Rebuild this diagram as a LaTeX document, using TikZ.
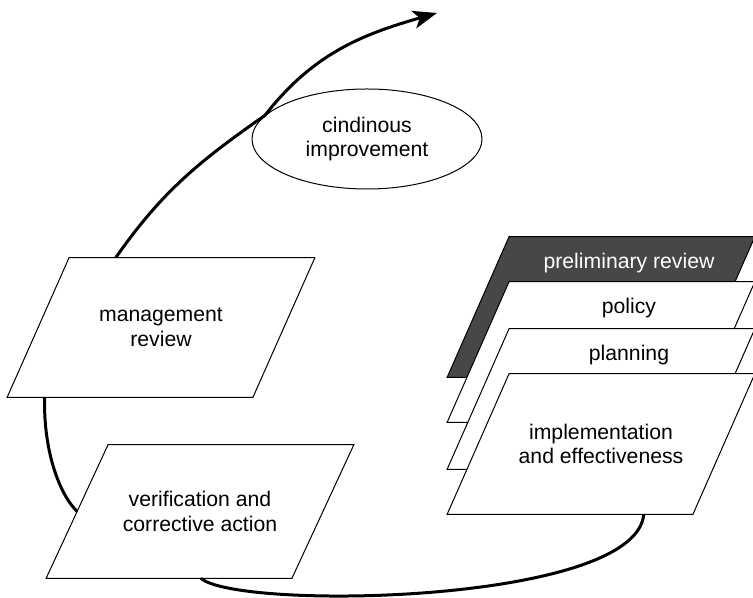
\documentclass[tikz,border=0pt]{standalone}
\usepackage{fontspec}
\setmainfont{Liberation Sans}
\usetikzlibrary{arrows.meta,calc,backgrounds,shapes.geometric}

\begin{document}
\begin{tikzpicture}[x=0.5pt, y=0.5pt,
        font=\fontsize{10.6}{12.4}\selectfont,
        slab/.style={minimum width=122.5pt, minimum height=70pt, inner sep=0pt, align=center},
        flow/.style={line width=1.5pt}]
        \useasboundingbox (0,0) rectangle (753,598);

        % Left side: reviews
        \node[slab, minimum height=69.5pt] (mgmt) at (161,270.5) {management\\review};
        \node[slab, minimum height=66.5pt] (verif) at (200,86.5) {verification and\\corrective action};

        % Improvement
        \node[draw, ellipse, line width=0.5pt, minimum width=115pt, minimum height=50pt, align=center] (improve) at (367,459) {cindinous\\improvement};
        \coordinate (tipend) at (437,585);

        % Right side: stacked stages
        \node[slab] (prelim) at (601,291) {};
        \node[text=white] (prelimtxt) at ($(prelim.north)+(28,-26)$) {preliminary review};
        \node[slab] (policy) at (601,246) {};
        \node (policytxt) at ($(policy.north)+(28,-26)$) {policy};
        \node[slab] (planning) at (601,199) {};
        \node (planningtxt) at ($(planning.north)+(28,-26)$) {planning};
        \node[slab] (impl) at (601,154) {implementation\\and effectiveness};

        % Slanted outlines behind the texts
        \begin{pgfonlayer}{background}
            \foreach \s/\c in {mgmt/white, verif/white, prelim/black!72, policy/white, planning/white, impl/white}
                \filldraw[fill=\c, line width=0.5pt]
                    ($(\s.north west)+(31,0)$) -- ($(\s.north east)+(31,0)$)
                    -- ($(\s.south east)+(-31,0)$) -- ($(\s.south west)+(-31,0)$) -- cycle;
        \end{pgfonlayer}

        % Connectors
        \draw[flow, -{Stealth[length=12pt, width=9pt, inset=3pt]}]
            ($(mgmt.north west)!0.19!(mgmt.north east)+(31,0)$)
            to[out=55, in=215] (improve.167)
            to[out=52, in=196] (tipend);
        \draw[flow] ($(mgmt.south west)!0.153!(mgmt.south east)+(-31,0)$)
            .. controls +(-92:45) and +(135:30) .. (verif.west);
        \draw[flow] ($(verif.south west)!0.63!(verif.south east)+(-31,0)$)
            .. controls +(-40:50) and +(-95:90) .. ($(impl.south west)!0.8!(impl.south east)+(-31,0)$);
    \end{tikzpicture}
\end{document}
